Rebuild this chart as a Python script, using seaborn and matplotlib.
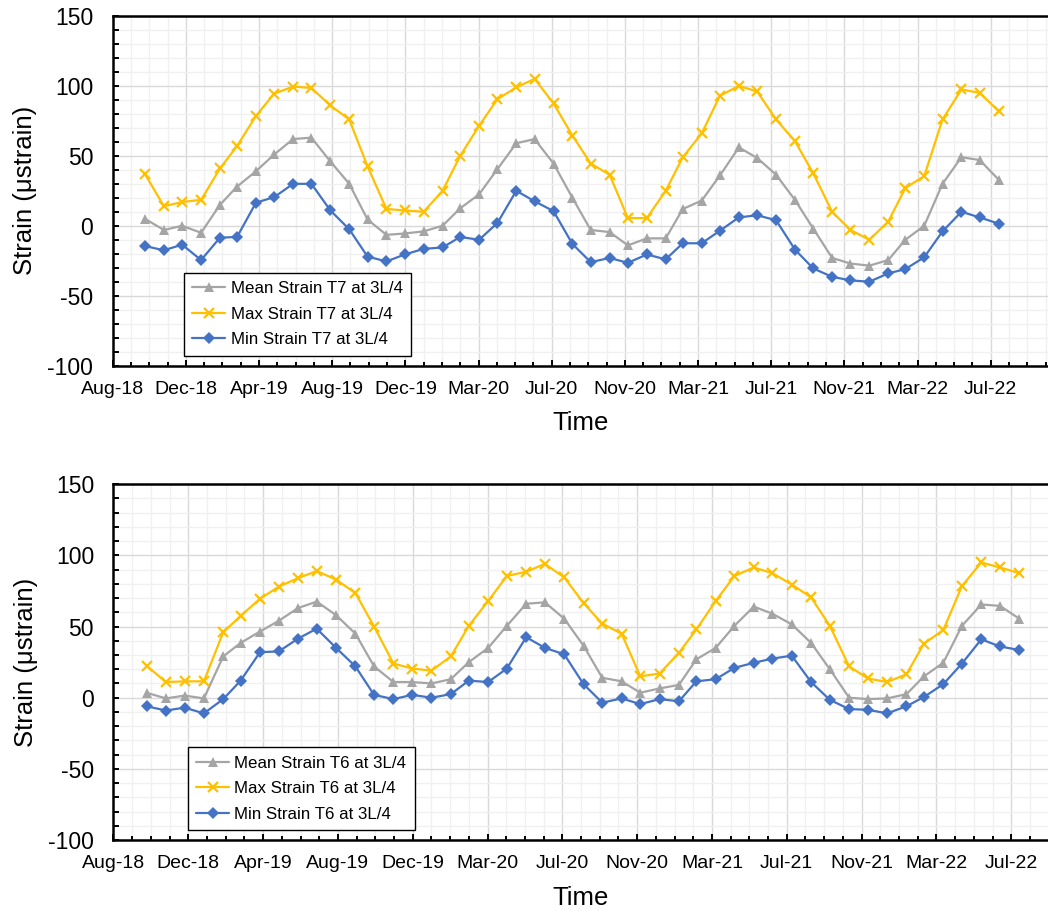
import numpy as np
import pandas as pd
import matplotlib
matplotlib.use("Agg")
import matplotlib.pyplot as plt
import matplotlib.dates as mdates
from matplotlib.ticker import MultipleLocator, FixedLocator, FixedFormatter
import seaborn as sns

# ---------------- data ----------------
dates = pd.date_range("2018-10-01", periods=47, freq="MS") - pd.Timedelta(days=1)  # month ends Sep-18 .. Jul-22

mean_t7 = [5, -3, 0, -5, 15, 28, 39, 51, 62, 63, 46, 30,
           4.5, -6.5, -5.5, -4, 0, 12.5, 22.5, 40.5, 59, 62, 44.5, 20,
           -3, -4.5, -14, -9, -9, 12, 18, 36, 56, 48.5, 36.5, 18.5,
           -2, -23, -27, -28.5, -24.5, -10, 0, 30, 49, 47, 33]
max_t7 = [37, 14, 17, 18.5, 41, 57, 78.5, 94.5, 99.5, 98.5, 86, 76,
          42.5, 12, 11, 10, 25, 50, 71.5, 90.5, 99, 105, 87.5, 64.5,
          44.5, 36.5, 5.5, 5.5, 25, 49, 66, 93, 100, 96, 76, 60.5,
          37.5, 10, -3, -10, 3, 27, 35.5, 76, 97.5, 95, 82]
min_t7 = [-14.5, -17.5, -13.5, -24.5, -8.5, -8, 16.5, 20.5, 30, 30, 11, -2.5,
          -22, -25.5, -20.5, -16.5, -15.5, -8, -10, 2, 25, 17.5, 10.5, -13,
          -26, -23, -26.5, -20.5, -24, -12.5, -12.5, -3.5, 6, 7.5, 4, -17,
          -30.5, -36.5, -39, -40, -34, -31, -22.5, -4, 10, 6, 1.5]

mean_t6 = [3.5, -0.5, 1.5, -0.5, 29, 38.5, 46.5, 54, 63, 67.5, 58, 45,
           22, 11, 11, 10, 13, 25, 35, 50.5, 66, 67, 55.5, 36.5,
           14, 11.5, 3.5, 6.5, 9, 27, 35, 50.5, 64, 59, 51.5, 38.5,
           20, 0, -1, -0.5, 2.5, 15, 24.5, 50.5, 65.5, 64.5, 55.5]
max_t6 = [22.5, 11, 11.5, 11.5, 46, 57.5, 69.5, 78, 84, 89, 83, 73.5,
          50, 24, 20.5, 19, 29, 50.5, 68, 85.5, 88.5, 94, 84.5, 66.5,
          52, 45, 15, 17, 31.5, 48, 68, 85.5, 91.5, 87.5, 79.5, 70.5,
          50.5, 22, 13.5, 11, 16.5, 38, 47.5, 78.5, 95, 91.5, 87.5]
min_t6 = [-6, -9, -7, -11, -1, 12, 32, 32.5, 41.5, 48.5, 35, 22,
          2, -1, 2, 0, 2.5, 12, 11, 20.5, 42.5, 35, 30.5, 9.5,
          -3.5, -0.5, -4.5, -1, -2.5, 11.5, 13, 21, 24.5, 27.5, 29.5, 11,
          -1.5, -8, -8.5, -11, -6, 0.5, 9.5, 24, 41, 36, 33.5]

xtick_labels = ["Aug-18", "Dec-18", "Apr-19", "Aug-19", "Dec-19", "Mar-20", "Jul-20",
                "Nov-20", "Mar-21", "Jul-21", "Nov-21", "Mar-22", "Jul-22"]
axis_start = "2018-08-08"

# ---------------- style ----------------
sns.set_theme(style="white")
plt.rcParams["font.family"] = ["Liberation Sans", "DejaVu Sans"]
plt.rcParams["axes.unicode_minus"] = False

GRAY = "#A5A5A5"
GOLD = "#FFC000"
BLUE = "#4472C4"

fig = plt.figure(figsize=(10.48, 9.11), dpi=100)
ax_top = fig.add_axes([0.1075, 0.5986, 0.8925, 0.3839])
ax_bot = fig.add_axes([0.1083, 0.0779, 0.8917, 0.3906])

x0 = mdates.date2num(np.datetime64(axis_start))


def draw(ax, mean, mx, mn, tag, span_days, leg_anchor):
    ax.set_axisbelow(True)
    sns.lineplot(x=dates, y=mean, ax=ax, color=GRAY, marker="^", markersize=7.5,
                 markeredgewidth=0, linewidth=1.6, label=f"Mean Strain {tag} at 3L/4")
    sns.lineplot(x=dates, y=mx, ax=ax, color=GOLD, marker="x", markersize=7,
                 markeredgewidth=1.6, markeredgecolor=GOLD, linewidth=1.6,
                 label=f"Max Strain {tag} at 3L/4")
    sns.lineplot(x=dates, y=mn, ax=ax, color=BLUE, marker="D", markersize=6,
                 markeredgewidth=0, linewidth=1.6, label=f"Min Strain {tag} at 3L/4")

    ax.set_ylim(-100, 150)
    ax.set_xlim(x0, x0 + span_days)
    ax.yaxis.set_major_locator(MultipleLocator(50))
    ax.yaxis.set_minor_locator(MultipleLocator(10))
    major_x = [x0 + 120 * k for k in range(len(xtick_labels))]
    ax.xaxis.set_major_locator(FixedLocator(major_x))
    ax.xaxis.set_major_formatter(FixedFormatter(xtick_labels))
    ax.xaxis.set_minor_locator(FixedLocator([x0 + 30 * k for k in range(60)]))

    ax.grid(which="major", color="#D9D9D9", linewidth=1.0)
    ax.grid(which="minor", color="#F0F0F0", linewidth=1.0)

    for s in ["left", "bottom", "top"]:
        ax.spines[s].set_visible(True)
        ax.spines[s].set_color("black")
        ax.spines[s].set_linewidth(1.8)
    ax.spines["right"].set_visible(False)

    ax.tick_params(axis="both", which="both", direction="in", left=True, bottom=True,
                   top=False, right=False, color="black", width=1.4)
    ax.tick_params(axis="y", which="major", length=4.5, labelsize=16.5, pad=14)
    ax.tick_params(axis="y", which="minor", length=4.5)
    ax.tick_params(axis="x", which="major", length=4.5, labelsize=14, pad=11)
    ax.tick_params(axis="x", which="minor", length=3)
    for lab in ax.get_xticklabels() + ax.get_yticklabels():
        lab.set_color("black")

    ax.set_xlabel("Time", fontsize=18.5, color="black")
    ax.set_ylabel("Strain (\u03bcstrain)", fontsize=18.5, color="black")
    ax.xaxis.set_label_coords(0.5, -0.13)
    ax.yaxis.set_label_coords(-0.081, 0.5)

    leg = ax.legend(loc="lower left", bbox_to_anchor=leg_anchor, borderaxespad=0,
                    frameon=True, fancybox=False, shadow=False, framealpha=1,
                    edgecolor="black", fontsize=12.2, handlelength=1.95,
                    handletextpad=0.3, labelspacing=0.62, borderpad=0.5)
    leg.get_frame().set_linewidth(1.0)
    for t in leg.get_texts():
        t.set_color("black")


draw(ax_top, mean_t7, max_t7, min_t7, "T7", 1534, (0.0762, 0.0286))
draw(ax_bot, mean_t6, max_t6, min_t6, "T6", 1499, (0.0794, 0.0281))

fig.savefig("out.png", dpi=100)
